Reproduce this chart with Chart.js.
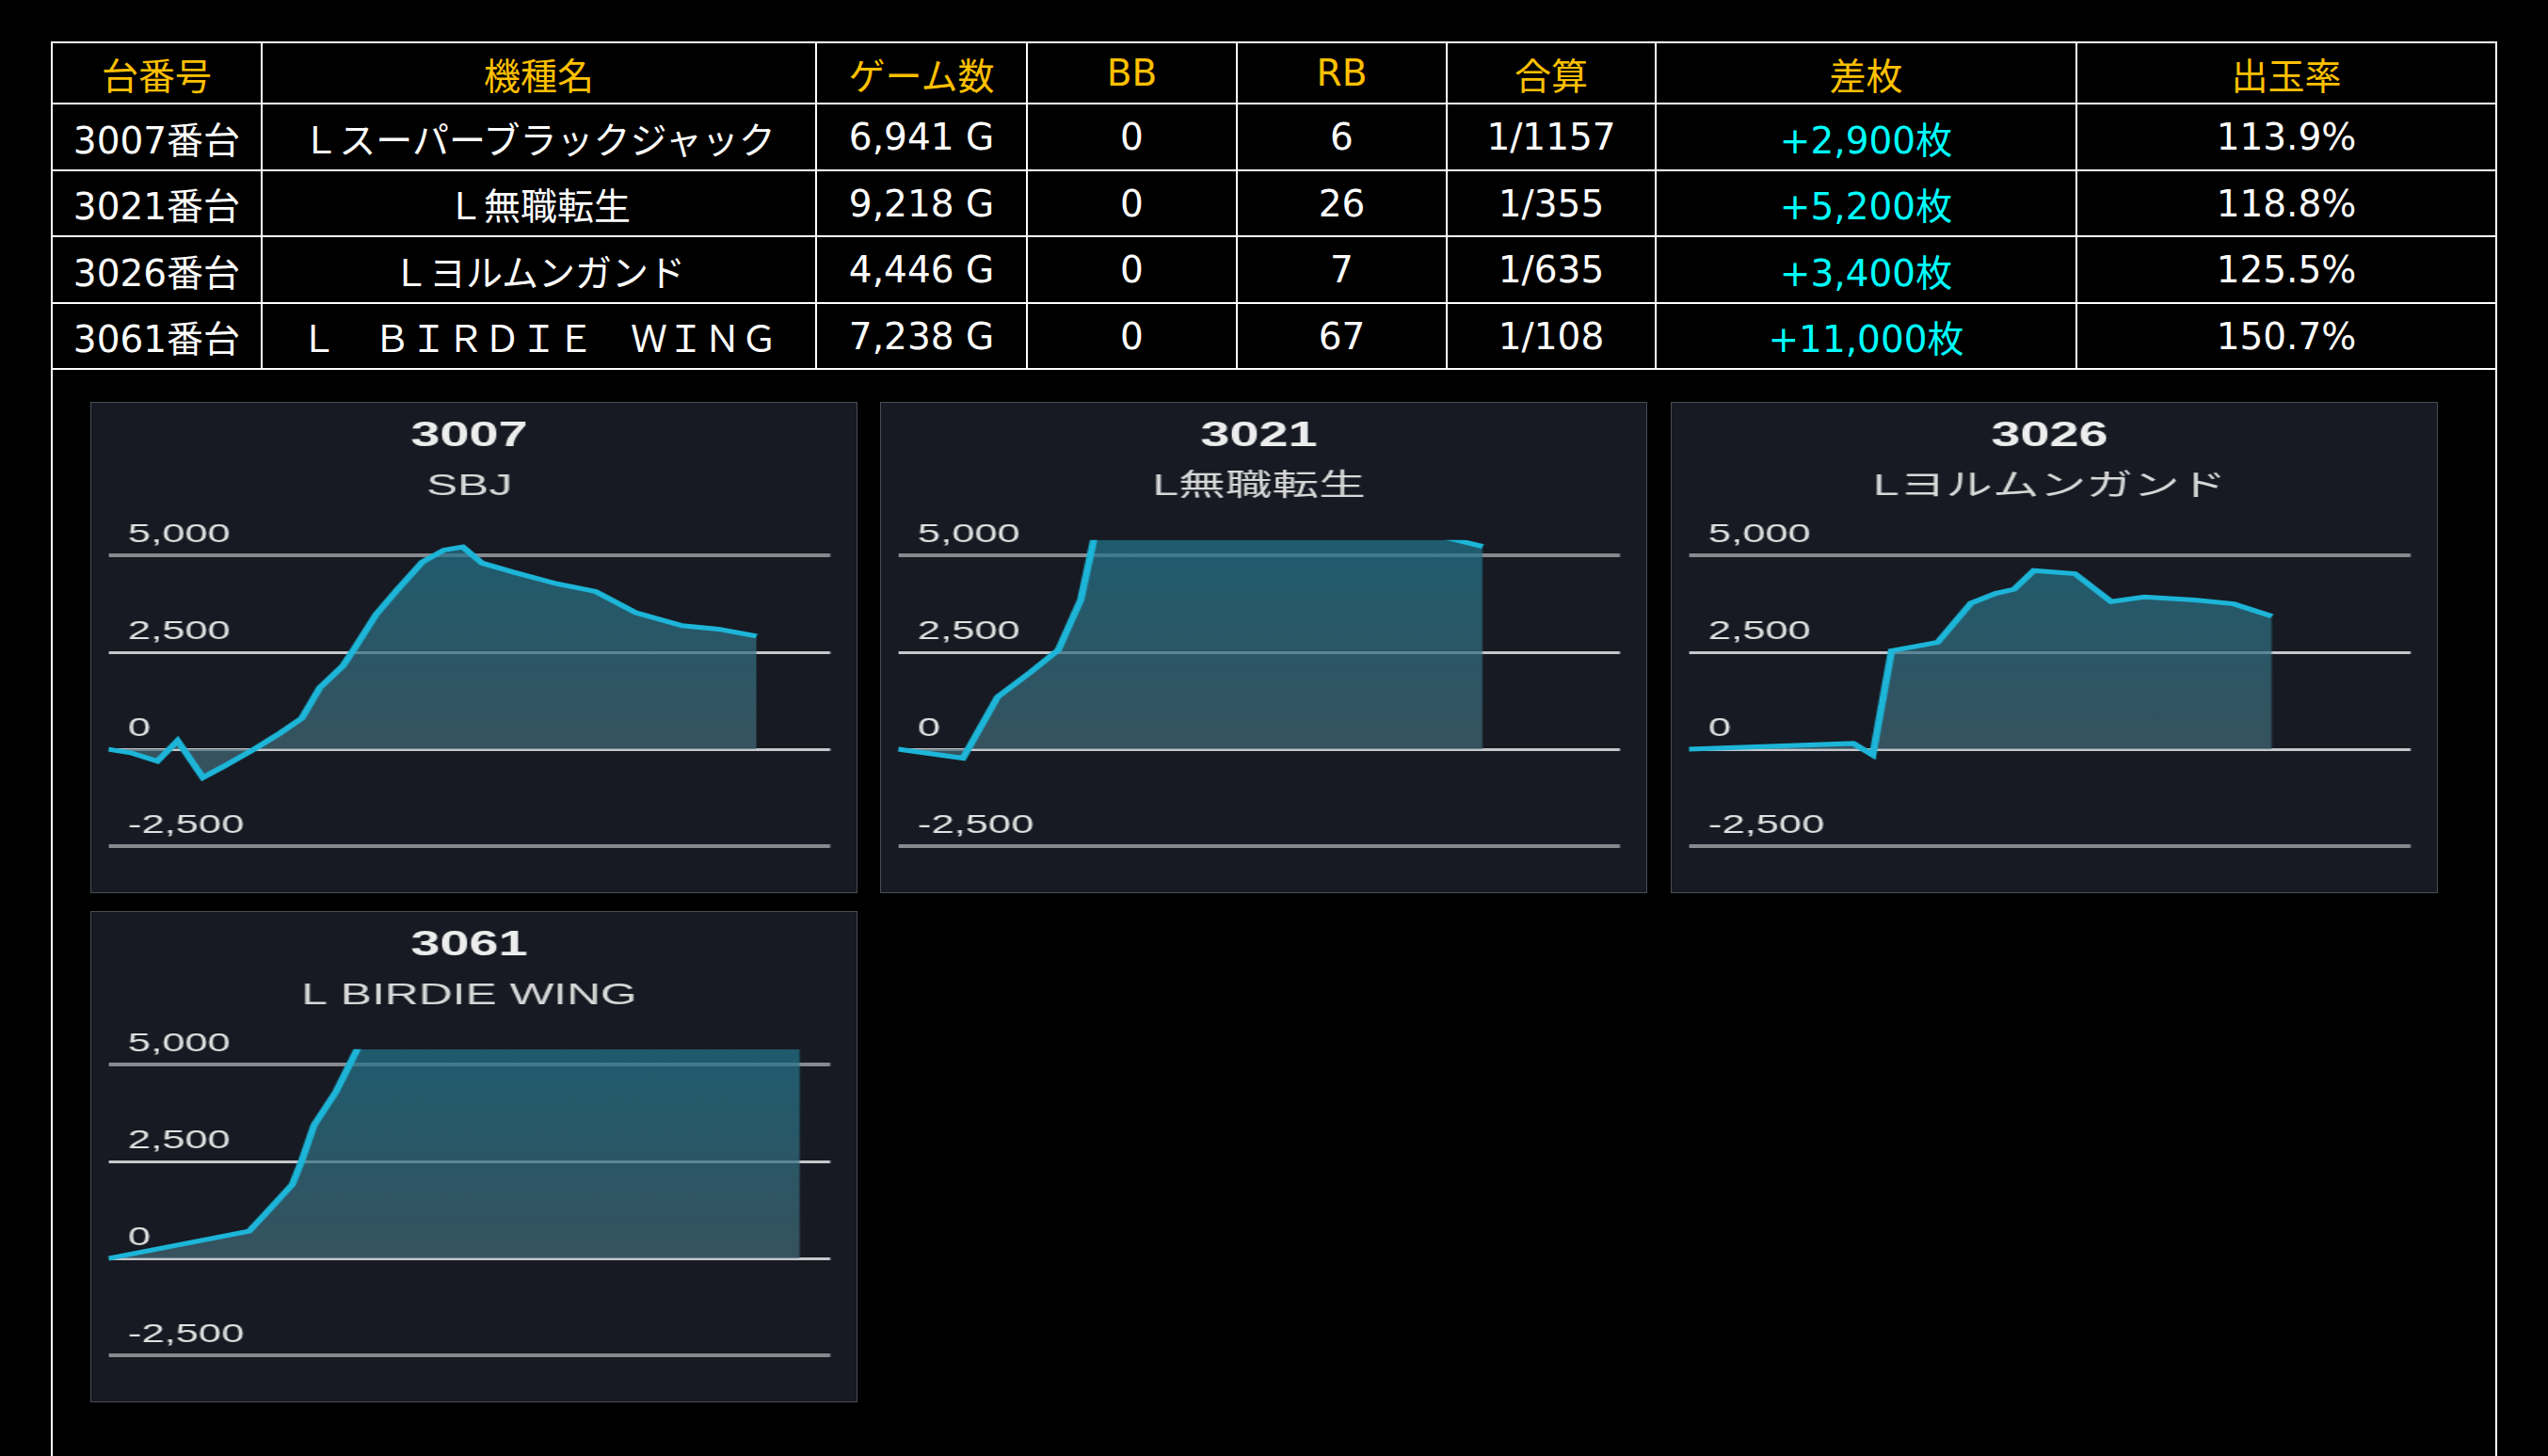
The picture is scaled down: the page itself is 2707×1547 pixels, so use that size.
<!DOCTYPE html>
<html>
<head>
<meta charset="utf-8">
<script src="https://cdn.jsdelivr.net/npm/chart.js@4.4.1/dist/chart.umd.min.js"></script>
<style>
html, body { margin: 0; padding: 0; background: #000; overflow: hidden; }
body { width: 2707px; height: 1547px; position: relative; }
#frame { position: absolute; left: 54px; top: 44px; width: 2595px; height: 1600px; border: 2px solid #fff; border-bottom: none; }
#tbl { position: absolute; left: 54px; top: 44px; width: 2599px; border-collapse: collapse; table-layout: fixed;
       font: 39px "DejaVu Sans", "Noto Sans CJK JP", sans-serif; color: #fff; }
#tbl td, #tbl th { border: 2px solid #fff; padding: 0; text-align: center; vertical-align: middle; white-space: nowrap; font-weight: normal; }
#tbl th { color: #ffc000; }
#tbl td.diff { color: #00ffff; }
.panel { position: absolute; box-sizing: border-box; width: 815px; height: 522px; background: #171a22; border: 1px solid #4a4d55; overflow: hidden; }
.inner { position: absolute; left: 0; top: 0; width: 524.5px; height: 520px; transform: scaleX(1.55); transform-origin: 0 0; }
</style>
</head>
<body>
<div id="frame"></div>
<table id="tbl">
  <colgroup>
    <col style="width:223px"><col style="width:589px"><col style="width:224px"><col style="width:223px">
    <col style="width:223px"><col style="width:222px"><col style="width:447px"><col style="width:446px">
  </colgroup>
  <thead><tr style="height:65px" id="headRow"></tr></thead>
  <tbody id="body"></tbody>
</table>

<div class="panel" style="left:96px; top:427px"><div class="inner"><canvas id="c3007"></canvas></div></div>
<div class="panel" style="left:935px; top:427px"><div class="inner"><canvas id="c3021"></canvas></div></div>
<div class="panel" style="left:1775px; top:427px"><div class="inner"><canvas id="c3026"></canvas></div></div>
<div class="panel" style="left:96px; top:968px"><div class="inner"><canvas id="c3061"></canvas></div></div>

<script>
// テーブル
const headers = ["台番号", "機種名", "ゲーム数", "BB", "RB", "合算", "差枚", "出玉率"];
const machineNo = ["3007番台", "3021番台", "3026番台", "3061番台"];
const machineName = ["Ｌスーパーブラックジャック", "Ｌ無職転生", "Ｌヨルムンガンド", "Ｌ　ＢＩＲＤＩＥ　ＷＩＮＧ"];
const games = ["6,941 G", "9,218 G", "4,446 G", "7,238 G"];
const bbCount = [0, 0, 0, 0];
const rbCount = [6, 26, 7, 67];
const combined = ["1/1157", "1/355", "1/635", "1/108"];
const diffCoins = ["+2,900枚", "+5,200枚", "+3,400枚", "+11,000枚"];
const payoutRate = ["113.9%", "118.8%", "125.5%", "150.7%"];
const rowHeights = [71, 70, 71, 70];

// グラフ
const chartIds = ["3007", "3021", "3026", "3061"];
const chartNames = ["SBJ", "L無職転生", "Lヨルムンガンド", "L BIRDIE WING"];
const yTicks = [-2500, 0, 2500, 5000];

const x3007 = [0, 3.1, 6.8, 9.6, 13.1, 16.1, 20.1, 23.5, 26.8, 29.3, 32.5, 34.1, 37.1, 40.1, 43.5, 46.5, 49.1, 51.8, 56.1, 62.1, 67.5, 73.1, 79.5, 84.5, 89.8];
const y3007 = [0, -90, -310, 220, -730, -430, -10, 380, 800, 1590, 2150, 2600, 3480, 4130, 4830, 5140, 5220, 4800, 4570, 4270, 4070, 3520, 3190, 3100, 2920];

const x3021 = [0, 9.0, 13.8, 18.3, 22.2, 25.3, 28.5, 35, 45, 55, 65, 72, 81.0];
const y3021 = [0, -230, 1350, 1980, 2560, 3850, 6600, 7200, 7800, 7400, 6600, 5640, 5230];

const x3026 = [0, 22.8, 25.5, 28.1, 32.8, 34.5, 39.1, 42.5, 45.1, 47.8, 53.5, 58.5, 63.1, 70.1, 75.5, 80.8];
const y3026 = [0, 150, -150, 2540, 2700, 2760, 3770, 4020, 4130, 4610, 4530, 3810, 3930, 3850, 3750, 3430];

const x3061 = [0, 19.5, 21.6, 25.5, 26.8, 28.5, 31.5, 36, 45, 60, 75, 88, 95.8];
const y3061 = [0, 700, 1120, 1910, 2520, 3440, 4290, 5960, 7400, 8900, 9900, 10600, 11000];

const headRow = document.getElementById("headRow");
headers.forEach(h => {
    const th = document.createElement("th");
    th.textContent = h;
    headRow.appendChild(th);
});

const tbody = document.getElementById("body");
machineNo.forEach((no, i) => {
    const tr = document.createElement("tr");
    tr.style.height = rowHeights[i] + "px";
    const cells = [no, machineName[i], games[i], bbCount[i], rbCount[i], combined[i], diffCoins[i], payoutRate[i]];
    cells.forEach((v, j) => {
        const td = document.createElement("td");
        td.textContent = v;
        if (j === 6) td.className = "diff";
        tr.appendChild(td);
    });
    tbody.appendChild(tr);
});

function fillGradient(c) {
    const chart = c.chart;
    const area = chart.chartArea;
    if (!area) return "rgba(34,117,140,0.7)";
    const zero = chart.scales.y.getPixelForValue(0);
    const g = chart.ctx.createLinearGradient(0, area.top, 0, zero);
    g.addColorStop(0, "rgba(34,117,140,0.72)");
    g.addColorStop(1, "rgba(66,104,118,0.72)");
    return g;
}

// 0 と 2500 の線は明るめ・細め
const isLight = c => c.tick && (c.tick.value === 0 || c.tick.value === 2500);

function makeChart(id, name, xs, ys) {
    const points = xs.map((x, i) => ({ x: x, y: ys[i] }));
    return new Chart(document.getElementById("c" + id), {
        type: "line",
        data: {
            datasets: [{
                data: points,
                borderColor: "#1db5d8",
                borderWidth: 5,
                pointRadius: 0,
                tension: 0,
                fill: "origin",
                clip: 0,
                backgroundColor: fillGradient
            }]
        },
        options: {
            responsive: true,
            maintainAspectRatio: false,
            animation: false,
            events: [],
            layout: { padding: { left: 11.6, right: 19, top: 0, bottom: 49 } },
            plugins: {
                legend: { display: false },
                tooltip: { enabled: false },
                title: {
                    display: true,
                    text: id,
                    color: "#ededed",
                    font: { family: "'Liberation Sans', Arial, sans-serif", size: 36, weight: "bold" },
                    padding: { top: 14.5, bottom: 5 }
                },
                subtitle: {
                    display: true,
                    text: name,
                    color: "#d8d8d8",
                    font: { family: "'Liberation Sans', 'Noto Sans CJK JP', sans-serif", size: 32 },
                    padding: { top: 7.5, bottom: 37.1 }
                }
            },
            scales: {
                x: { type: "linear", min: 0, max: 100, display: false },
                y: {
                    min: -2500,
                    max: 5400,
                    afterBuildTicks: s => { s.ticks = yTicks.map(v => ({ value: v })); },
                    afterFit: s => { s.width = 0; s.paddingTop = 0; s.paddingBottom = 0; },
                    border: { display: false },
                    grid: {
                        drawTicks: false,
                        color: c => isLight(c) ? "#c5c7cb" : "#88898f",
                        lineWidth: c => isLight(c) ? 3 : 4
                    },
                    ticks: {
                        mirror: true,
                        padding: 13.5,
                        labelOffset: -22,
                        color: "#e2e2e2",
                        font: { family: "'Liberation Sans', Arial, sans-serif", size: 28 },
                        callback: v => v.toLocaleString("en-US")
                    }
                }
            }
        }
    });
}

makeChart(chartIds[0], chartNames[0], x3007, y3007);
makeChart(chartIds[1], chartNames[1], x3021, y3021);
makeChart(chartIds[2], chartNames[2], x3026, y3026);
makeChart(chartIds[3], chartNames[3], x3061, y3061);
</script>
</body>
</html>
